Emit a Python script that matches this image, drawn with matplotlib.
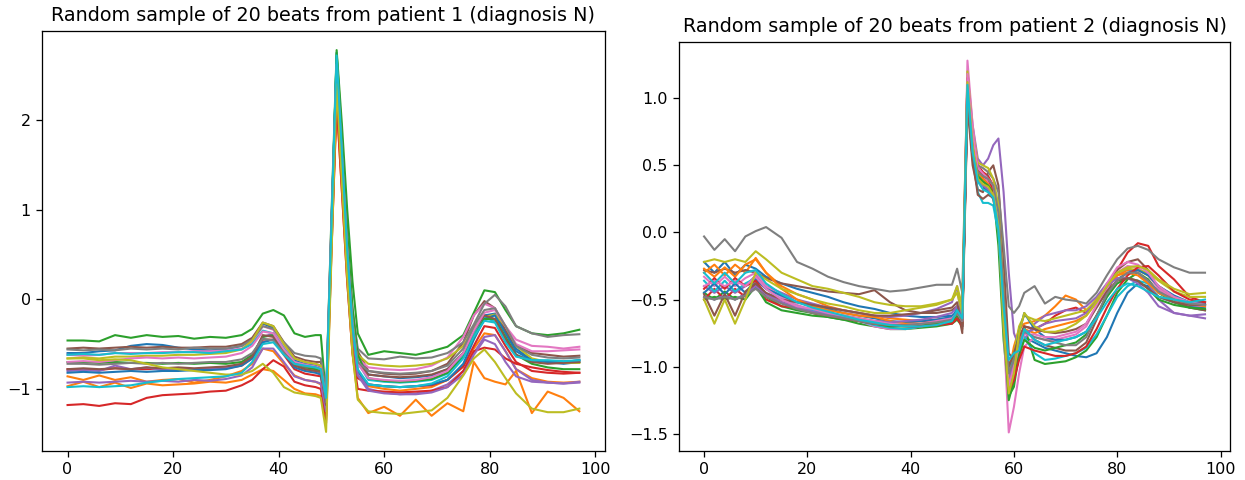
import matplotlib
matplotlib.use("Agg")
import matplotlib.pyplot as plt

x1 = [0, 3, 6, 9, 12, 15, 18, 21, 24, 27, 30, 33, 35, 37, 39, 41, 43, 45, 47, 48,
      49, 50, 51, 52, 53, 54, 55, 57, 60, 63, 66, 69, 72, 75, 77, 79, 81, 83, 85,
      88, 91, 94, 97]

x2 = [0, 2, 4, 6, 8, 10, 12, 15, 18, 21, 24, 27, 30, 33, 36, 39, 42, 45, 48, 49,
      50, 51, 52, 53, 54, 55, 56, 57, 58, 59, 60, 61, 62, 64, 66, 68, 70, 72, 74,
      76, 78, 80, 82, 84, 86, 88, 91, 94, 97]

# patient 1 beats
p1_beats = [
    [-0.60, -0.60, -0.58, -0.57, -0.52, -0.50, -0.51, -0.54, -0.56, -0.57, -0.56, -0.52, -0.45, -0.27, -0.32, -0.50, -0.68, -0.72, -0.74, -0.76, -1.25, 0.75, 2.70, 1.70, 0.60, -0.20, -0.62, -0.84, -0.86, -0.88, -0.87, -0.85, -0.78, -0.60, -0.35, -0.18, -0.16, -0.35, -0.55, -0.68, -0.70, -0.72, -0.70],
    [-0.86, -0.90, -0.85, -0.90, -0.87, -0.92, -0.90, -0.89, -0.93, -0.90, -0.86, -0.80, -0.72, -0.55, -0.58, -0.72, -0.85, -0.90, -0.92, -0.95, -1.30, 0.60, 2.35, 1.40, 0.40, -0.40, -0.85, -0.97, -1.00, -1.02, -1.00, -0.98, -0.90, -0.75, -0.55, -0.38, -0.40, -0.58, -0.78, -0.88, -0.92, -0.93, -0.92],
    [-0.46, -0.46, -0.47, -0.40, -0.43, -0.40, -0.42, -0.41, -0.44, -0.42, -0.43, -0.40, -0.33, -0.16, -0.12, -0.18, -0.38, -0.42, -0.40, -0.40, -1.10, 0.90, 2.78, 1.95, 1.00, 0.20, -0.38, -0.62, -0.58, -0.60, -0.62, -0.58, -0.53, -0.40, -0.15, 0.10, 0.08, -0.12, -0.30, -0.38, -0.40, -0.38, -0.34],
    [-0.78, -0.78, -0.79, -0.77, -0.78, -0.78, -0.77, -0.78, -0.79, -0.78, -0.77, -0.74, -0.66, -0.45, -0.45, -0.62, -0.78, -0.83, -0.85, -0.86, -1.20, 0.60, 2.25, 1.30, 0.30, -0.50, -0.88, -0.95, -0.97, -0.98, -0.97, -0.96, -0.90, -0.75, -0.52, -0.30, -0.32, -0.52, -0.70, -0.80, -0.82, -0.83, -0.82],
    [-0.80, -0.79, -0.80, -0.74, -0.78, -0.76, -0.79, -0.78, -0.79, -0.77, -0.76, -0.73, -0.65, -0.42, -0.38, -0.55, -0.72, -0.78, -0.80, -0.82, -1.15, 0.80, 2.65, 1.65, 0.55, -0.30, -0.80, -1.00, -1.04, -1.06, -1.05, -1.02, -0.95, -0.80, -0.60, -0.42, -0.40, -0.58, -0.78, -0.90, -0.93, -0.94, -0.93],
    [-0.55, -0.54, -0.55, -0.54, -0.53, -0.54, -0.53, -0.54, -0.54, -0.53, -0.53, -0.50, -0.43, -0.26, -0.30, -0.48, -0.64, -0.68, -0.70, -0.70, -1.20, 0.75, 2.65, 1.70, 0.65, -0.15, -0.58, -0.80, -0.83, -0.84, -0.83, -0.80, -0.72, -0.48, -0.18, -0.02, -0.10, -0.35, -0.52, -0.60, -0.62, -0.64, -0.63],
    [-0.62, -0.63, -0.62, -0.60, -0.60, -0.60, -0.59, -0.59, -0.58, -0.58, -0.57, -0.55, -0.48, -0.30, -0.34, -0.52, -0.66, -0.70, -0.72, -0.74, -1.10, 0.80, 2.60, 1.60, 0.55, -0.25, -0.66, -0.76, -0.78, -0.79, -0.78, -0.74, -0.65, -0.42, -0.18, -0.05, -0.10, -0.30, -0.45, -0.52, -0.53, -0.55, -0.53],
    [-0.56, -0.57, -0.56, -0.57, -0.55, -0.56, -0.55, -0.56, -0.54, -0.55, -0.55, -0.52, -0.45, -0.30, -0.33, -0.48, -0.60, -0.63, -0.64, -0.66, -1.05, 0.85, 2.70, 1.75, 0.70, -0.10, -0.55, -0.66, -0.67, -0.64, -0.66, -0.65, -0.60, -0.48, -0.28, -0.05, 0.05, -0.08, -0.30, -0.38, -0.42, -0.40, -0.39],
    [-0.66, -0.65, -0.66, -0.64, -0.64, -0.63, -0.63, -0.62, -0.62, -0.61, -0.60, -0.56, -0.46, -0.26, -0.30, -0.50, -0.66, -0.70, -0.72, -0.74, -1.20, 0.70, 2.55, 1.65, 0.60, -0.25, -0.62, -0.72, -0.74, -0.75, -0.74, -0.72, -0.66, -0.52, -0.32, -0.20, -0.17, -0.30, -0.52, -0.66, -0.70, -0.71, -0.71],
    [-0.62, -0.61, -0.62, -0.60, -0.61, -0.60, -0.60, -0.59, -0.59, -0.60, -0.58, -0.56, -0.50, -0.35, -0.38, -0.55, -0.70, -0.74, -0.76, -0.78, -1.15, 0.75, 2.75, 1.70, 0.60, -0.25, -0.70, -0.90, -0.92, -0.93, -0.92, -0.90, -0.83, -0.62, -0.38, -0.20, -0.25, -0.45, -0.62, -0.68, -0.69, -0.70, -0.68],
    [-0.82, -0.81, -0.82, -0.81, -0.80, -0.81, -0.80, -0.80, -0.79, -0.79, -0.78, -0.74, -0.66, -0.48, -0.45, -0.60, -0.76, -0.80, -0.82, -0.84, -1.25, 0.70, 2.60, 1.60, 0.50, -0.35, -0.80, -0.95, -0.97, -0.98, -0.97, -0.95, -0.90, -0.72, -0.45, -0.22, -0.18, -0.38, -0.58, -0.68, -0.70, -0.70, -0.68],
    [-0.97, -0.92, -0.98, -0.93, -0.99, -0.94, -0.96, -0.95, -0.94, -0.92, -0.93, -0.90, -0.84, -0.78, -0.80, -0.90, -1.00, -1.05, -1.06, -1.08, -1.35, 0.50, 2.20, 1.20, 0.20, -0.60, -1.10, -1.27, -1.20, -1.30, -1.12, -1.30, -1.16, -1.25, -0.70, -0.88, -0.92, -0.95, -0.80, -1.27, -1.03, -1.10, -1.25],
    [-0.70, -0.70, -0.71, -0.70, -0.71, -0.71, -0.72, -0.71, -0.72, -0.71, -0.72, -0.70, -0.62, -0.42, -0.40, -0.58, -0.72, -0.76, -0.78, -0.80, -1.20, 0.75, 2.75, 1.80, 0.75, -0.10, -0.62, -0.88, -0.91, -0.92, -0.91, -0.89, -0.82, -0.65, -0.42, -0.22, -0.22, -0.42, -0.62, -0.72, -0.76, -0.78, -0.78],
    [-1.18, -1.17, -1.19, -1.16, -1.17, -1.10, -1.07, -1.06, -1.05, -1.03, -1.02, -0.96, -0.90, -0.78, -0.68, -0.75, -0.92, -0.96, -0.98, -1.00, -1.38, 0.50, 2.20, 1.20, 0.20, -0.60, -1.00, -1.02, -1.03, -1.04, -1.03, -1.02, -0.98, -0.80, -0.58, -0.54, -0.56, -0.66, -0.72, -0.76, -0.79, -0.81, -0.82],
    [-0.93, -0.92, -0.93, -0.92, -0.91, -0.92, -0.91, -0.92, -0.90, -0.91, -0.89, -0.85, -0.76, -0.55, -0.55, -0.70, -0.86, -0.90, -0.92, -0.94, -1.25, 0.65, 2.60, 1.60, 0.50, -0.35, -0.85, -1.02, -1.05, -1.06, -1.06, -1.04, -0.98, -0.84, -0.62, -0.45, -0.50, -0.70, -0.86, -0.92, -0.93, -0.94, -0.92],
    [-0.78, -0.77, -0.78, -0.77, -0.78, -0.76, -0.77, -0.76, -0.77, -0.76, -0.75, -0.72, -0.64, -0.40, -0.42, -0.60, -0.74, -0.78, -0.80, -0.81, -1.18, 0.70, 2.55, 1.55, 0.50, -0.30, -0.72, -0.84, -0.86, -0.87, -0.86, -0.84, -0.78, -0.60, -0.35, -0.18, -0.22, -0.44, -0.62, -0.70, -0.72, -0.71, -0.70],
    [-0.70, -0.69, -0.70, -0.68, -0.66, -0.65, -0.66, -0.65, -0.66, -0.65, -0.64, -0.60, -0.52, -0.36, -0.38, -0.56, -0.70, -0.73, -0.75, -0.77, -1.12, 0.78, 2.62, 1.62, 0.58, -0.25, -0.72, -0.88, -0.90, -0.91, -0.90, -0.87, -0.80, -0.60, -0.35, -0.15, -0.12, -0.30, -0.50, -0.58, -0.58, -0.57, -0.56],
    [-0.72, -0.72, -0.73, -0.72, -0.71, -0.72, -0.71, -0.72, -0.71, -0.70, -0.70, -0.67, -0.60, -0.44, -0.46, -0.60, -0.72, -0.75, -0.76, -0.78, -1.15, 0.72, 2.60, 1.62, 0.55, -0.28, -0.70, -0.80, -0.82, -0.83, -0.82, -0.80, -0.74, -0.55, -0.30, -0.12, -0.10, -0.30, -0.52, -0.62, -0.65, -0.66, -0.65],
    [-0.66, -0.66, -0.68, -0.67, -0.68, -0.72, -0.76, -0.78, -0.80, -0.82, -0.84, -0.84, -0.80, -0.72, -0.82, -0.98, -1.04, -1.06, -1.08, -1.10, -1.48, 0.45, 2.40, 1.30, 0.25, -0.60, -1.12, -1.25, -1.27, -1.28, -1.26, -1.24, -1.10, -0.85, -0.66, -0.56, -0.70, -0.88, -1.05, -1.22, -1.26, -1.26, -1.22],
    [-0.98, -0.97, -0.98, -0.97, -0.96, -0.93, -0.91, -0.89, -0.88, -0.87, -0.86, -0.82, -0.70, -0.50, -0.48, -0.62, -0.72, -0.74, -0.76, -0.78, -1.10, 0.80, 2.72, 1.65, 0.55, -0.30, -0.78, -0.95, -0.97, -0.98, -0.97, -0.94, -0.86, -0.66, -0.42, -0.24, -0.26, -0.48, -0.64, -0.68, -0.68, -0.69, -0.68],
]

# patient 2 beats
p2_beats = [
    [-0.22, -0.30, -0.22, -0.32, -0.24, -0.27, -0.33, -0.38, -0.42, -0.45, -0.48, -0.52, -0.55, -0.57, -0.60, -0.62, -0.63, -0.63, -0.62, -0.60, -0.62, 1.05, 0.60, 0.42, 0.38, 0.35, 0.30, 0.10, -0.50, -1.10, -1.00, -0.85, -0.78, -0.82, -0.86, -0.88, -0.90, -0.92, -0.93, -0.90, -0.78, -0.60, -0.45, -0.38, -0.40, -0.48, -0.52, -0.55, -0.56],
    [-0.30, -0.24, -0.32, -0.24, -0.30, -0.19, -0.30, -0.40, -0.46, -0.50, -0.55, -0.58, -0.60, -0.62, -0.64, -0.65, -0.66, -0.66, -0.65, -0.60, -0.66, 1.00, 0.55, 0.40, 0.35, 0.32, 0.25, 0.00, -0.60, -1.05, -0.85, -0.72, -0.68, -0.66, -0.62, -0.55, -0.47, -0.50, -0.58, -0.52, -0.42, -0.32, -0.28, -0.28, -0.32, -0.40, -0.48, -0.52, -0.54],
    [-0.45, -0.50, -0.44, -0.50, -0.46, -0.38, -0.48, -0.55, -0.58, -0.60, -0.63, -0.65, -0.68, -0.70, -0.72, -0.72, -0.71, -0.70, -0.68, -0.65, -0.70, 1.10, 0.70, 0.45, 0.40, 0.38, 0.30, -0.10, -0.80, -1.22, -1.15, -0.90, -0.70, -0.95, -0.98, -0.97, -0.96, -0.93, -0.88, -0.78, -0.62, -0.45, -0.35, -0.30, -0.35, -0.45, -0.52, -0.56, -0.58],
    [-0.50, -0.42, -0.50, -0.42, -0.48, -0.38, -0.50, -0.55, -0.56, -0.58, -0.60, -0.62, -0.64, -0.66, -0.67, -0.67, -0.66, -0.65, -0.64, -0.58, -0.66, 1.15, 0.70, 0.50, 0.45, 0.42, 0.35, 0.15, -0.40, -1.15, -1.05, -0.80, -0.70, -0.72, -0.68, -0.62, -0.58, -0.56, -0.60, -0.50, -0.40, -0.28, -0.15, -0.08, -0.10, -0.25, -0.35, -0.48, -0.52],
    [-0.40, -0.45, -0.40, -0.45, -0.40, -0.32, -0.40, -0.45, -0.50, -0.53, -0.56, -0.58, -0.60, -0.62, -0.63, -0.62, -0.60, -0.57, -0.52, -0.40, -0.70, 1.20, 0.80, 0.55, 0.50, 0.55, 0.65, 0.70, 0.30, -0.30, -0.75, -0.85, -0.80, -0.68, -0.62, -0.60, -0.58, -0.58, -0.55, -0.48, -0.38, -0.30, -0.27, -0.30, -0.38, -0.50, -0.60, -0.62, -0.64],
    [-0.28, -0.30, -0.27, -0.30, -0.28, -0.30, -0.34, -0.38, -0.40, -0.42, -0.44, -0.45, -0.46, -0.43, -0.52, -0.58, -0.60, -0.60, -0.58, -0.55, -0.75, 0.95, 0.50, 0.32, 0.30, 0.45, 0.50, 0.35, -0.20, -0.90, -0.95, -0.80, -0.72, -0.80, -0.84, -0.86, -0.88, -0.88, -0.82, -0.65, -0.45, -0.28, -0.22, -0.20, -0.28, -0.42, -0.50, -0.56, -0.58],
    [-0.33, -0.40, -0.33, -0.40, -0.34, -0.30, -0.40, -0.48, -0.54, -0.58, -0.60, -0.62, -0.66, -0.70, -0.72, -0.72, -0.70, -0.68, -0.66, -0.62, -0.68, 1.28, 0.80, 0.50, 0.42, 0.38, 0.30, 0.05, -0.70, -1.49, -1.30, -1.05, -0.85, -0.78, -0.80, -0.80, -0.78, -0.76, -0.70, -0.55, -0.42, -0.30, -0.25, -0.26, -0.32, -0.42, -0.50, -0.54, -0.55],
    [-0.03, -0.13, -0.05, -0.14, -0.03, 0.01, 0.04, -0.04, -0.22, -0.27, -0.33, -0.37, -0.40, -0.42, -0.44, -0.43, -0.41, -0.39, -0.39, -0.27, -0.45, 1.15, 0.70, 0.50, 0.48, 0.45, 0.40, 0.30, -0.10, -0.55, -0.60, -0.55, -0.45, -0.40, -0.53, -0.48, -0.50, -0.51, -0.53, -0.45, -0.32, -0.20, -0.12, -0.10, -0.13, -0.20, -0.26, -0.30, -0.30],
    [-0.22, -0.20, -0.22, -0.20, -0.22, -0.14, -0.20, -0.30, -0.35, -0.40, -0.42, -0.45, -0.48, -0.52, -0.54, -0.55, -0.55, -0.53, -0.50, -0.40, -0.55, 1.20, 0.75, 0.52, 0.50, 0.48, 0.40, 0.20, -0.45, -1.10, -0.90, -0.70, -0.62, -0.65, -0.66, -0.64, -0.62, -0.60, -0.58, -0.50, -0.40, -0.30, -0.27, -0.28, -0.30, -0.36, -0.44, -0.48, -0.48],
    [-0.36, -0.44, -0.36, -0.44, -0.38, -0.34, -0.42, -0.50, -0.55, -0.58, -0.60, -0.63, -0.66, -0.69, -0.71, -0.72, -0.70, -0.68, -0.66, -0.55, -0.70, 1.10, 0.65, 0.30, 0.22, 0.22, 0.20, 0.00, -0.60, -1.00, -0.95, -0.85, -0.78, -0.90, -0.95, -0.94, -0.92, -0.90, -0.86, -0.76, -0.62, -0.48, -0.40, -0.36, -0.38, -0.45, -0.50, -0.52, -0.54],
    [-0.45, -0.38, -0.46, -0.38, -0.45, -0.35, -0.42, -0.47, -0.52, -0.55, -0.57, -0.60, -0.62, -0.64, -0.66, -0.67, -0.66, -0.65, -0.63, -0.58, -0.64, 1.00, 0.60, 0.40, 0.35, 0.30, 0.25, 0.05, -0.65, -1.15, -0.95, -0.75, -0.60, -0.72, -0.78, -0.80, -0.80, -0.78, -0.74, -0.62, -0.48, -0.35, -0.30, -0.28, -0.32, -0.40, -0.47, -0.52, -0.53],
    [-0.27, -0.33, -0.26, -0.33, -0.24, -0.20, -0.30, -0.42, -0.50, -0.55, -0.58, -0.60, -0.62, -0.63, -0.66, -0.68, -0.68, -0.67, -0.66, -0.62, -0.68, 1.05, 0.65, 0.45, 0.40, 0.36, 0.30, 0.10, -0.55, -1.10, -0.95, -0.80, -0.72, -0.75, -0.72, -0.70, -0.68, -0.66, -0.62, -0.52, -0.40, -0.32, -0.30, -0.32, -0.38, -0.45, -0.50, -0.53, -0.55],
    [-0.50, -0.48, -0.50, -0.48, -0.50, -0.40, -0.52, -0.58, -0.60, -0.62, -0.63, -0.65, -0.66, -0.68, -0.70, -0.70, -0.69, -0.68, -0.67, -0.62, -0.68, 1.05, 0.62, 0.42, 0.38, 0.35, 0.30, 0.05, -0.70, -1.25, -1.10, -0.92, -0.80, -0.86, -0.88, -0.86, -0.84, -0.82, -0.76, -0.62, -0.48, -0.38, -0.34, -0.36, -0.42, -0.50, -0.54, -0.56, -0.57],
    [-0.42, -0.34, -0.42, -0.34, -0.40, -0.36, -0.46, -0.52, -0.56, -0.60, -0.62, -0.64, -0.66, -0.68, -0.69, -0.70, -0.70, -0.69, -0.68, -0.64, -0.70, 1.15, 0.72, 0.48, 0.42, 0.40, 0.32, 0.10, -0.55, -1.18, -1.10, -0.95, -0.85, -0.88, -0.90, -0.92, -0.92, -0.90, -0.85, -0.72, -0.56, -0.42, -0.32, -0.26, -0.25, -0.32, -0.44, -0.50, -0.52],
    [-0.48, -0.50, -0.47, -0.50, -0.46, -0.40, -0.46, -0.52, -0.56, -0.59, -0.61, -0.63, -0.65, -0.66, -0.67, -0.66, -0.65, -0.63, -0.60, -0.55, -0.66, 1.00, 0.60, 0.38, 0.35, 0.32, 0.28, 0.08, -0.60, -1.08, -0.98, -0.85, -0.75, -0.72, -0.68, -0.66, -0.65, -0.64, -0.60, -0.52, -0.40, -0.34, -0.34, -0.38, -0.45, -0.55, -0.60, -0.62, -0.61],
    [-0.46, -0.62, -0.46, -0.62, -0.44, -0.38, -0.45, -0.50, -0.52, -0.54, -0.56, -0.58, -0.60, -0.62, -0.62, -0.61, -0.60, -0.58, -0.56, -0.52, -0.72, 0.98, 0.55, 0.28, 0.25, 0.28, 0.26, 0.12, -0.50, -1.00, -0.90, -0.78, -0.70, -0.72, -0.74, -0.75, -0.74, -0.72, -0.68, -0.56, -0.44, -0.36, -0.34, -0.36, -0.42, -0.48, -0.52, -0.54, -0.54],
    [-0.40, -0.36, -0.40, -0.36, -0.40, -0.33, -0.42, -0.50, -0.55, -0.57, -0.60, -0.62, -0.64, -0.66, -0.68, -0.69, -0.68, -0.66, -0.64, -0.60, -0.66, 1.18, 0.75, 0.48, 0.44, 0.40, 0.35, 0.12, -0.60, -1.15, -1.00, -0.85, -0.76, -0.76, -0.78, -0.78, -0.76, -0.74, -0.68, -0.54, -0.38, -0.26, -0.22, -0.24, -0.30, -0.40, -0.48, -0.52, -0.54],
    [-0.48, -0.50, -0.48, -0.50, -0.47, -0.42, -0.48, -0.53, -0.57, -0.60, -0.62, -0.64, -0.66, -0.68, -0.69, -0.69, -0.68, -0.67, -0.65, -0.60, -0.66, 1.05, 0.60, 0.45, 0.42, 0.40, 0.35, 0.15, -0.45, -1.05, -0.95, -0.82, -0.74, -0.78, -0.80, -0.82, -0.84, -0.84, -0.78, -0.62, -0.46, -0.36, -0.30, -0.30, -0.36, -0.44, -0.50, -0.53, -0.54],
    [-0.50, -0.68, -0.50, -0.68, -0.50, -0.30, -0.35, -0.42, -0.46, -0.50, -0.53, -0.55, -0.58, -0.60, -0.60, -0.58, -0.56, -0.54, -0.50, -0.45, -0.60, 1.12, 0.65, 0.40, 0.36, 0.34, 0.28, 0.05, -0.70, -1.20, -1.05, -0.75, -0.60, -0.70, -0.74, -0.74, -0.72, -0.68, -0.62, -0.52, -0.40, -0.30, -0.26, -0.25, -0.28, -0.35, -0.42, -0.46, -0.45],
    [-0.30, -0.38, -0.30, -0.38, -0.30, -0.28, -0.38, -0.46, -0.52, -0.56, -0.59, -0.62, -0.65, -0.67, -0.69, -0.70, -0.70, -0.69, -0.66, -0.58, -0.64, 1.10, 0.60, 0.38, 0.32, 0.30, 0.26, 0.02, -0.55, -0.95, -0.90, -0.88, -0.72, -0.80, -0.84, -0.82, -0.80, -0.78, -0.74, -0.64, -0.52, -0.42, -0.38, -0.40, -0.44, -0.48, -0.50, -0.52, -0.50],
]

titles = ["Random sample of 20 beats from patient 1 (diagnosis N)",
          "Random sample of 20 beats from patient 2 (diagnosis N)"]

# reference looks rendered ~1.15x larger than the default 100 dpi
dpi = 115
fig = plt.figure(figsize=(1245 / dpi, 480 / dpi), dpi=dpi)
ax1 = fig.add_axes([0.0337, 0.0604, 0.4522, 0.875])
ax2 = fig.add_axes([0.5454, 0.0604, 0.4426, 0.852])

for beat in p1_beats:
    ax1.plot(x1, beat, lw=1.3)
for beat in p2_beats:
    ax2.plot(x2, beat, lw=1.3)

ax1.set_title(titles[0])
ax2.set_title(titles[1])

fig.savefig("out.png", dpi=dpi)
